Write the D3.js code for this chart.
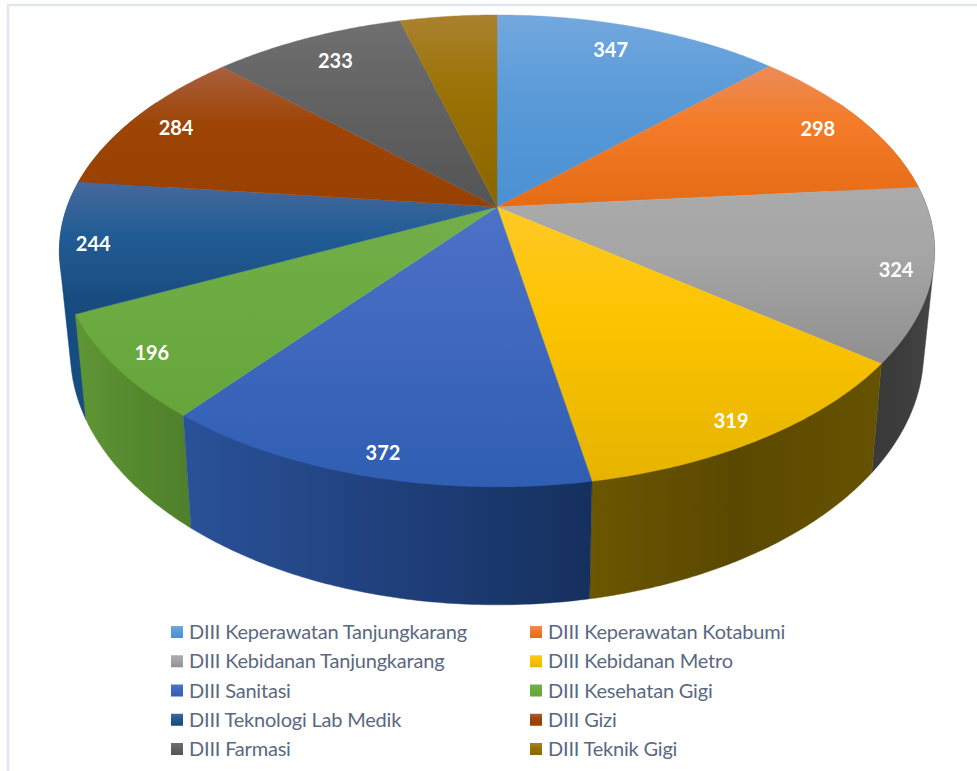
<!DOCTYPE html>
<html>
<head>
<meta charset="utf-8">
<script src="https://cdn.jsdelivr.net/npm/d3@7"></script>
<style>
  html, body { margin: 0; padding: 0; background: #fff; overflow: hidden; }
</style>
</head>
<body>
<div id="chart"></div>
<script>
//*************************1. Data
const categories = ["DIII Keperawatan Tanjungkarang", "DIII Keperawatan Kotabumi", "DIII Kebidanan Tanjungkarang",
  "DIII Kebidanan Metro", "DIII Sanitasi", "DIII Kesehatan Gigi", "DIII Teknologi Lab Medik", "DIII Gizi",
  "DIII Farmasi", "DIII Teknik Gigi"];
const values = [347, 298, 324, 319, 372, 196, 244, 284, 233, 117];
const showLabel = [true, true, true, true, true, true, true, true, true, false];

// [rim, middle, centre] colours of the top of each slice
const topColors = [["#74a8de", "#5b9bd8", "#4a90d2"], ["#ec8b58", "#f47c28", "#e56b14"], ["#ababab", "#a5a5a5", "#8f8f8f"],
  ["#ffc926", "#fcc400", "#e6b400"], ["#4c72c6", "#4169bf", "#2f5eb3"], ["#72ae4a", "#6dac42", "#66a53a"],
  ["#46699c", "#215c94", "#17497c"], ["#a9603e", "#9e4506", "#984002"], ["#707070", "#636363", "#545454"],
  ["#a9822f", "#9a7205", "#8a6600"]];
// [left, middle, right] colours of the side wall
const wallColors = [["#3a6ea5", "#3a6ea5", "#3a6ea5"], ["#b05a1a", "#b05a1a", "#b05a1a"], ["#3a3a3a", "#3c3c3c", "#464646"],
  ["#6b5700", "#5a4800", "#665300"], ["#2a5298", "#20407c", "#15305e"], ["#5f9635", "#558a2e", "#4f7f2b"],
  ["#144b80", "#164c80", "#184f84"], ["#7a3402", "#7a3402", "#7a3402"], ["#444444", "#444444", "#444444"],
  ["#6e5200", "#6e5200", "#6e5200"]];

//*************************2. Measurements
const dimensions = { width: 977, height: 771 };
const pieX = 497, pieY = 207;    // where the pie centre lands on screen
const radiusX = 430, radiusY = 227.8, tilt = 0.186;

// unit circle (y towards viewer) to screen, with perspective
const project = (x, y) => {
  const w = 1 - tilt * y;
  return [pieX + radiusX * x / w, pieY + radiusY * y / w];
};
const rimPoint = a => project(Math.sin(a), -Math.cos(a));
// same point on the lower face of the pie
const lower = ([x, y]) => [pieX + 0.975 * (x - pieX), y + 97.7 + 0.0726 * (y - pieY)];

const arcAngles = (a0, a1) => {
  const n = Math.max(2, Math.ceil((a1 - a0) / 0.01));
  return d3.range(n + 1).map(i => a0 + (a1 - a0) * i / n);
};

//*************************3. Canvas
const svg = d3.select("#chart").append("svg")
  .attr("width", dimensions.width)
  .attr("height", dimensions.height)
  .style("display", "block");

svg.append("rect")
  .attr("x", 8).attr("y", 5)
  .attr("width", dimensions.width + 20).attr("height", dimensions.height + 20)
  .attr("fill", "#fff").attr("stroke", "#e2e7ee").attr("stroke-width", 2.4);

const defs = svg.append("defs");
const addGradient = (id, horizontal, stops, mid) => {
  const g = defs.append("linearGradient").attr("id", id)
    .attr("x1", 0).attr("y1", 0)
    .attr("x2", horizontal ? 1 : 0).attr("y2", horizontal ? 0 : 1);
  g.selectAll("stop").data(stops).join("stop")
    .attr("offset", (d, i) => [0, mid, 1][i])
    .attr("stop-color", d => d);
};
categories.forEach((c, i) => {
  addGradient("top" + i, false, topColors[i], 0.4);
  addGradient("wall" + i, true, wallColors[i], 0.5);
});

//*************************4. Slices
const pie = d3.pie().sort(null).value(d => d.value);
const slices = pie(values.map((value, i) => ({ value, i })));
const line = d3.line();

// side walls, only the part facing the viewer, back ones first
// the hull keeps the straight silhouette between upper and lower rim at both sides
const frontStart = Math.PI / 3, frontEnd = Math.PI * 5 / 3;
const walls = svg.append("g");
const midDepth = s => -Math.cos((s.startAngle + s.endAngle) / 2);
slices.slice().sort((a, b) => midDepth(a) - midDepth(b)).forEach(s => {
  const a0 = Math.max(s.startAngle, frontStart), a1 = Math.min(s.endAngle, frontEnd);
  if (a1 <= a0) return;
  const upper = arcAngles(a0, a1).map(rimPoint);
  const points = d3.polygonHull(upper.concat(upper.map(lower)));
  walls.append("path")
    .attr("d", line(points) + "Z")
    .attr("fill", `url(#wall${s.data.i})`)
    .attr("stroke", `url(#wall${s.data.i})`)
    .attr("stroke-width", 0.4);
});

// top faces
svg.append("g").selectAll("path")
  .data(slices)
  .join("path")
  .attr("d", s => line([[pieX, pieY]].concat(arcAngles(s.startAngle, s.endAngle).map(rimPoint))) + "Z")
  .attr("fill", s => `url(#top${s.data.i})`)
  .attr("stroke", s => `url(#top${s.data.i})`)
  .attr("stroke-width", 0.4);

//*************************5. Data labels
// pixel nudges off the computed spot, the original placed these by hand
const labelNudge = [[-10, -3], [3, -2], [11, 2], [-7, 4], [2, 0], [-3, 1], [-15, 1], [-5, -1], [3, 0], [0, 0]];
const labelSpot = s => {
  const a = (s.startAngle + s.endAngle) / 2;
  const r = 0.885 + 0.04 * -Math.cos(a);
  const [x, y] = project(r * Math.sin(a), -r * Math.cos(a));
  return [x + labelNudge[s.data.i][0], y + labelNudge[s.data.i][1]];
};
svg.append("g").selectAll("text")
  .data(slices.filter(s => showLabel[s.data.i]))
  .join("text")
  .attr("x", s => labelSpot(s)[0])
  .attr("y", s => labelSpot(s)[1])
  .attr("text-anchor", "middle")
  .attr("dominant-baseline", "central")
  .attr("fill", "#fff")
  .style("font", "bold 20px Lato")
  .text(s => s.data.value);

//*************************6. Legend
const legendCol = d3.scaleOrdinal().domain([0, 1]).range([171, 530]);
const legendRow = d3.scalePoint().domain(d3.range(5)).range([632, 749]);
const legend = svg.append("g").selectAll("g")
  .data(categories)
  .join("g")
  .attr("transform", (d, i) => `translate(${legendCol(i % 2)},${legendRow(Math.floor(i / 2))})`);
legend.append("rect")
  .attr("y", -6).attr("width", 12).attr("height", 12)
  .attr("fill", (d, i) => `url(#top${i})`);
legend.append("text")
  .attr("x", 18)
  .attr("y", -1)
  .attr("dominant-baseline", "central")
  .attr("fill", "#5a6880")
  .style("font", "20px Lato")
  .style("letter-spacing", "-0.2px")
  .text(d => d);
</script>
</body>
</html>
